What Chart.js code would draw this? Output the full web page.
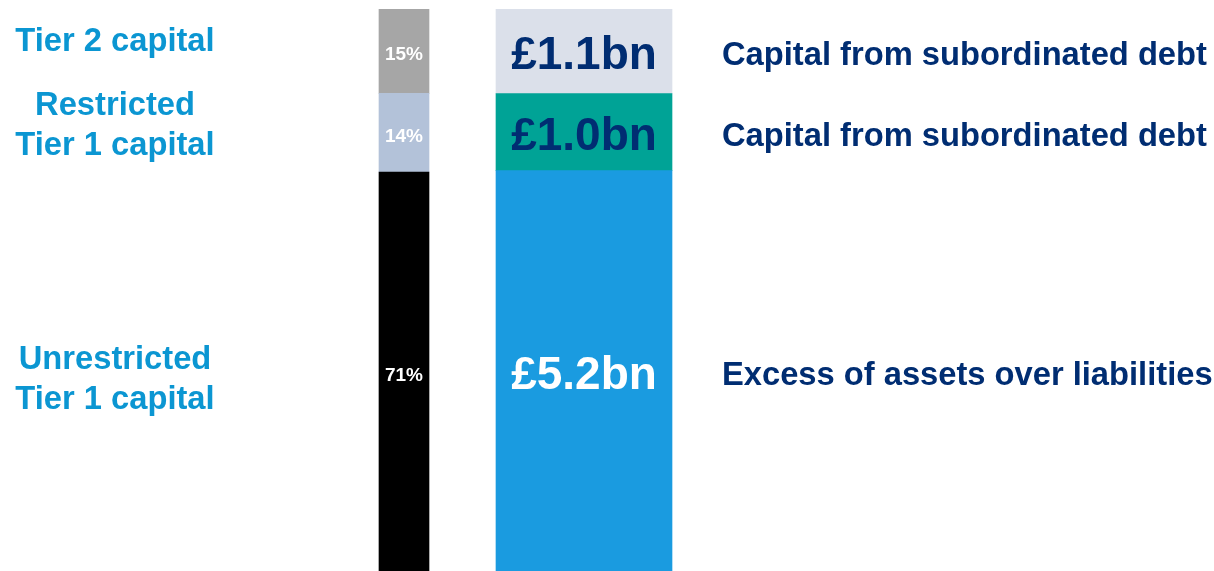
<!DOCTYPE html>
<html>
<head>
<meta charset="utf-8">
<script src="https://cdn.jsdelivr.net/npm/chart.js@4/dist/chart.umd.min.js"></script>
<style>
  html, body { margin: 0; padding: 0; background: #fff; }
  #wrap { width: 1214px; height: 571px; position: relative; }
</style>
</head>
<body>
<div id="wrap"><canvas id="myChart"></canvas></div>
<script>
// data, bottom segment first
const tiers = ["Unrestricted\nTier 1 capital", "Restricted\nTier 1 capital", "Tier 2 capital"];
const tierShare = [71, 14, 15];
const amounts = [5.2, 1.0, 1.1];
const amountText = ["£5.2bn", "£1.0bn", "£1.1bn"];
const sources = ["Excess of assets over liabilities", "Capital from subordinated debt", "Capital from subordinated debt"];

const shareColors = ["#000000", "#b3c2d9", "#a6a6a6"];
const amountColors = ["#1a9be0", "#00a396", "#dbe0ea"];
const amountInk = ["#ffffff", "#002d72", "#002d72"];
const tierNudge = [6, -10, -12]; // left labels sit a bit off the segment middle

const FONT = '"Liberation Sans", Arial, Helvetica, sans-serif';

let datasets = [];
tiers.forEach((t, i) => {
  datasets.push({
    label: t,
    data: [tierShare[i], null],
    backgroundColor: shareColors[i],
    stack: "share",
    yAxisID: "y",
    barThickness: 50,
    grouped: false,
    kind: "share",
    idx: i
  });
});
amounts.forEach((a, i) => {
  datasets.push({
    label: amountText[i],
    data: [null, a],
    backgroundColor: amountColors[i],
    stack: "amount",
    yAxisID: "yBn",
    barThickness: 176,
    grouped: false,
    kind: "amount",
    idx: i
  });
});

// draws the texts inside and beside the bars
const barTexts = {
  id: "barTexts",
  afterDatasetsDraw(chart) {
    const ctx = chart.ctx;
    ctx.save();
    ctx.textBaseline = "middle";
    chart.data.datasets.forEach((ds, d) => {
      const meta = chart.getDatasetMeta(d);
      const i = ds.idx;
      if (ds.kind === "share") {
        const el = meta.data[0];
        const cy = (el.y + el.base) / 2 + 3;
        ctx.font = "bold 19px " + FONT;
        ctx.fillStyle = "#ffffff";
        ctx.textAlign = "center";
        ctx.fillText(tierShare[i] + "%", el.x, cy + 1);

        const lines = tiers[i].split("\n");
        ctx.font = "bold 32.7px " + FONT;
        ctx.fillStyle = "#0b96d2";
        const lh = 40;
        const y0 = cy + tierNudge[i] - (lines.length - 1) * lh / 2;
        lines.forEach((ln, k) => ctx.fillText(ln, 115, y0 + k * lh));
      } else {
        const el = meta.data[1];
        const cy = (el.y + el.base) / 2 + 3;
        ctx.font = "bold 46px " + FONT;
        ctx.fillStyle = amountInk[i];
        ctx.textAlign = "center";
        ctx.fillText(amountText[i], el.x, cy + 2);

        ctx.font = "bold 32.7px " + FONT;
        ctx.fillStyle = "#002d72";
        ctx.textAlign = "left";
        ctx.fillText(sources[i], 722, cy + 2);
      }
    });
    ctx.restore();
  }
};

const ctx = document.getElementById("myChart").getContext("2d");
const myChart = new Chart(ctx, {
  type: "bar",
  data: {
    labels: ["share", "amount"],
    datasets: datasets
  },
  options: {
    responsive: true,
    maintainAspectRatio: false,
    animation: false,
    events: [],
    layout: { padding: { left: 314, right: 540, top: 9, bottom: 0 } },
    plugins: {
      legend: { display: false },
      tooltip: { enabled: false }
    },
    scales: {
      x: { display: false, stacked: true },
      y: { display: false, stacked: true, min: 0, max: 100 },
      yBn: { display: false, stacked: true, min: 0, max: 7.3 }
    }
  },
  plugins: [barTexts]
});
</script>
</body>
</html>
